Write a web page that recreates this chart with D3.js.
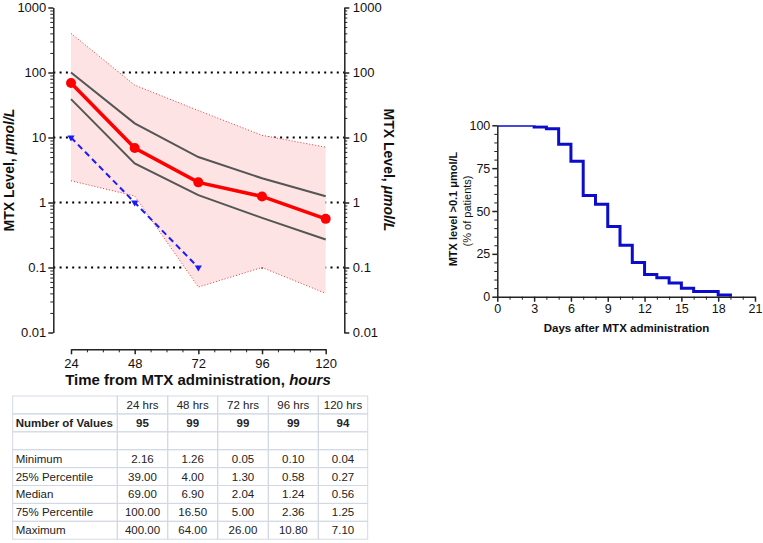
<!DOCTYPE html>
<html><head><meta charset="utf-8">
<script src="https://cdn.jsdelivr.net/npm/d3@7"></script>
<style>
body{margin:0;background:#fff;}
svg{display:block;font-family:"Liberation Sans",Arial,sans-serif;}
</style></head>
<body>
<svg id="c" width="763" height="543"></svg>
<script>
// ---- Data ----
const hours = [24, 48, 72, 96, 120];
const hourLabels = ["24 hrs", "48 hrs", "72 hrs", "96 hrs", "120 hrs"];
const nValues = [95, 99, 99, 99, 94];
const minimum = [2.16, 1.26, 0.05, 0.10, 0.04];
const p25 = [39.00, 4.00, 1.30, 0.58, 0.27];
const median = [69.00, 6.90, 2.04, 1.24, 0.56];
const p75 = [100.00, 16.50, 5.00, 2.36, 1.25];
const maximum = [400.00, 64.00, 26.00, 10.80, 7.10];
const thresholdHours = [24, 48, 72];
const thresholdValues = [10, 1, 0.1];
const refLines = [100, 10, 1, 0.1];
const yTicks = [1000, 100, 10, 1, 0.1, 0.01];
const yTickLabels = ["1000", "100", "10", "1", "0.1", "0.01"];
const xTicks = [24, 48, 72, 96, 120];

const days = [0, 3, 4, 5, 6, 7, 8, 9, 10, 11, 12, 13, 14, 15, 16, 18, 19];
const pctAbove = [100, 99, 98, 89, 79, 59, 54, 41, 30, 20, 13, 11, 8, 5, 3, 1, 0];
const dayTicks = [0, 3, 6, 9, 12, 15, 18, 21];
const pctTicks = [0, 25, 50, 75, 100];

const svg = d3.select("#c");

// ---- Left chart ----
const x = d3.scaleLinear().domain([24, 120]).range([71, 325.7]);
const y = d3.scaleLog().domain([0.01, 1000]).range([332.5, 7.5]);
const yAxisL = 53.3, yAxisR = 344.3, xAxisY = 349.3;

const minorLog = [];
for (let e = -2; e < 3; e++) for (let k = 2; k <= 9; k++) minorLog.push(k * Math.pow(10, e));

const g = svg.append("g");

// reference dotted lines
g.selectAll(".ref").data(refLines).join("line")
  .attr("x1", yAxisL).attr("x2", yAxisR)
  .attr("y1", d => y(d)).attr("y2", d => y(d))
  .attr("stroke", "#000").attr("stroke-width", 2).attr("stroke-dasharray", "2,4.3");

const idx = d3.range(hours.length);
const band = d3.area().x(i => x(hours[i])).y0(i => y(minimum[i])).y1(i => y(maximum[i]));
g.append("path").datum(idx).attr("d", band).attr("fill", "#fde3e3");

const lineOf = arr => d3.line().x(i => x(hours[i])).y(i => y(arr[i]))(idx);
[minimum, maximum].forEach(arr => {
  g.append("path").attr("d", lineOf(arr)).attr("fill", "none")
    .attr("stroke", "#e8383c").attr("stroke-width", 1).attr("stroke-dasharray", "1,2");
});
[p25, p75].forEach(arr => {
  g.append("path").attr("d", lineOf(arr)).attr("fill", "none")
    .attr("stroke", "#555").attr("stroke-width", 2);
});

// threshold blue dashed
const tIdx = d3.range(thresholdHours.length);
g.append("path").attr("d", d3.line().x(i => x(thresholdHours[i])).y(i => y(thresholdValues[i]))(tIdx))
  .attr("fill", "none").attr("stroke", "#1a1aff").attr("stroke-width", 2).attr("stroke-dasharray", "6,4");
const tri = d3.symbol().type(d3.symbolTriangle).size(22);
g.selectAll(".tri").data(tIdx).join("path")
  .attr("d", tri)
  .attr("transform", i => `translate(${x(thresholdHours[i])},${y(thresholdValues[i])}) rotate(180)`)
  .attr("fill", "#1a1aff");

// median
g.append("path").attr("d", lineOf(median)).attr("fill", "none")
  .attr("stroke", "#ff0000").attr("stroke-width", 3.5);
g.selectAll(".med").data(idx).join("circle")
  .attr("cx", i => x(hours[i])).attr("cy", i => y(median[i])).attr("r", 5).attr("fill", "#ff0000");

// axes
function styleAxis(sel, fs) {
  sel.selectAll("path,line").attr("stroke", "#222").attr("stroke-width", 1.5);
  sel.selectAll("text").attr("fill", "#111").style("font-size", fs + "px").style("font-family", "'Liberation Sans',Arial,sans-serif");
}
const fmtY = d => yTickLabels[yTicks.indexOf(d)];
const aL = g.append("g").attr("transform", `translate(${yAxisL},0)`)
  .call(d3.axisLeft(y).tickValues(yTicks).tickFormat(fmtY).tickSize(5).tickPadding(2).tickSizeOuter(0));
styleAxis(aL, 13);
const aLm = g.append("g").attr("transform", `translate(${yAxisL},0)`)
  .call(d3.axisLeft(y).tickValues(minorLog).tickFormat("").tickSize(3).tickSizeOuter(0));
styleAxis(aLm, 13); aLm.select(".domain").remove();
aLm.selectAll("line").attr("stroke-width", 1);

const aR = g.append("g").attr("transform", `translate(${yAxisR},0)`)
  .call(d3.axisRight(y).tickValues(yTicks).tickFormat(fmtY).tickSize(5).tickPadding(3.5).tickSizeOuter(0));
styleAxis(aR, 13);
const aRm = g.append("g").attr("transform", `translate(${yAxisR},0)`)
  .call(d3.axisRight(y).tickValues(minorLog).tickFormat("").tickSize(3).tickSizeOuter(0));
styleAxis(aRm, 13); aRm.select(".domain").remove();
aRm.selectAll("line").attr("stroke-width", 1);

const aX = g.append("g").attr("transform", `translate(0,${xAxisY})`)
  .call(d3.axisBottom(x).tickValues(xTicks).tickFormat(d3.format("d")).tickSize(5).tickPadding(4).tickSizeOuter(0));
styleAxis(aX, 13);
const xMinor = d3.range(24, 121, 6).filter(v => xTicks.indexOf(v) < 0);
const aXm = g.append("g").attr("transform", `translate(0,${xAxisY})`)
  .call(d3.axisBottom(x).tickValues(xMinor).tickFormat("").tickSize(3).tickSizeOuter(0));
styleAxis(aXm, 13); aXm.select(".domain").remove();
aXm.selectAll("line").attr("stroke-width", 1);

// titles
const xt = g.append("text").attr("x", 198).attr("y", 385).attr("text-anchor", "middle")
  .style("font-size", "15px").style("font-weight", "bold").attr("fill", "#111");
xt.append("tspan").text("Time from MTX administration, ");
xt.append("tspan").style("font-style", "italic").text("hours");

function yTitle(xp, rot) {
  const t = g.append("text").attr("transform", `translate(${xp},170) rotate(${rot})`)
    .attr("text-anchor", "middle").attr("dy", "0.35em")
    .style("font-size", "14px").style("font-weight", "bold").attr("fill", "#111");
  t.append("tspan").text("MTX Level, ");
  t.append("tspan").style("font-style", "italic").text("\u03bcmol/L");
}
yTitle(9, -90);
yTitle(389, 90);

// ---- Right chart ----
const xs = d3.scaleLinear().domain([0, 21]).range([497.3, 755]);
const ys = d3.scaleLinear().domain([0, 100]).range([296.7, 125.3]);
const g2 = svg.append("g");
g2.append("clipPath").attr("id", "clipR").append("rect")
  .attr("x", 490).attr("y", 125.3).attr("width", 270).attr("height", 190);

const dIdx = d3.range(days.length);
g2.append("path").attr("clip-path", "url(#clipR)")
  .attr("d", d3.line().curve(d3.curveStepAfter).x(i => xs(days[i])).y(i => ys(pctAbove[i]))(dIdx))
  .attr("fill", "none").attr("stroke", "#0c0ccc").attr("stroke-width", 3);

const ry = g2.append("g").attr("transform", `translate(497.3,0)`)
  .call(d3.axisLeft(ys).tickValues(pctTicks).tickSize(5).tickPadding(2).tickSizeOuter(0));
styleAxis(ry, 12.5);
const rym = g2.append("g").attr("transform", `translate(497.3,0)`)
  .call(d3.axisLeft(ys).tickValues(d3.range(5, 100, 5).filter(v => v % 25)).tickFormat("").tickSize(3).tickSizeOuter(0));
styleAxis(rym, 12); rym.select(".domain").remove(); rym.selectAll("line").attr("stroke-width", 1);

const rx = g2.append("g").attr("transform", `translate(0,296.7)`)
  .call(d3.axisBottom(xs).tickValues(dayTicks).tickSize(5).tickPadding(2).tickSizeOuter(0));
styleAxis(rx, 12.5);
const rxm = g2.append("g").attr("transform", `translate(0,296.7)`)
  .call(d3.axisBottom(xs).tickValues(d3.range(1, 21).filter(v => v % 3)).tickFormat("").tickSize(3).tickSizeOuter(0));
styleAxis(rxm, 12); rxm.select(".domain").remove(); rxm.selectAll("line").attr("stroke-width", 1);

g2.append("text").attr("x", 626.5).attr("y", 332).attr("text-anchor", "middle")
  .style("font-size", "11.5px").style("font-weight", "bold").attr("fill", "#111")
  .text("Days after MTX administration");
g2.append("text").attr("transform", "translate(457,209) rotate(-90)").attr("text-anchor", "middle")
  .style("font-size", "11px").style("font-weight", "bold").attr("fill", "#111")
  .text("MTX level >0.1 \u03bcmol/L");
g2.append("text").attr("transform", "translate(471,211) rotate(-90)").attr("text-anchor", "middle")
  .style("font-size", "11px").attr("fill", "#111")
  .text("(% of patients)");

// ---- Table ----
const colX = [12.7, 117.3, 167.7, 217.7, 268.3, 318.3, 367.7];
const rowH = 17.9, top0 = 396;
const rows = [
  { label: "", vals: hourLabels, bold: false },
  { label: "Number of Values", vals: nValues.map(String), bold: true },
  { label: "", vals: ["", "", "", "", ""], bold: false },
  { label: "Minimum", vals: minimum.map(v => v.toFixed(2)), bold: false },
  { label: "25% Percentile", vals: p25.map(v => v.toFixed(2)), bold: false },
  { label: "Median", vals: median.map(v => v.toFixed(2)), bold: false },
  { label: "75% Percentile", vals: p75.map(v => v.toFixed(2)), bold: false },
  { label: "Maximum", vals: maximum.map(v => v.toFixed(2)), bold: false }
];
const tg = svg.append("g");
rows.forEach((r, ri) => {
  const yy = top0 + ri * rowH;
  for (let c = 0; c < 6; c++) {
    tg.append("rect").attr("x", colX[c]).attr("y", yy).attr("width", colX[c + 1] - colX[c]).attr("height", rowH)
      .attr("fill", "none").attr("stroke", "#d3d9e4").attr("stroke-width", 1);
  }
  tg.append("text").attr("x", colX[0] + 3).attr("y", yy + rowH / 2).attr("dy", "0.35em")
    .style("font-size", "11.5px").style("font-weight", r.bold ? "bold" : "normal").attr("fill", "#222").text(r.label);
  r.vals.forEach((v, c) => {
    tg.append("text").attr("x", (colX[c + 1] + colX[c + 2]) / 2).attr("y", yy + rowH / 2).attr("dy", "0.35em")
      .attr("text-anchor", "middle")
      .style("font-size", "11.5px").style("font-weight", r.bold ? "bold" : "normal").attr("fill", "#222").text(v);
  });
});
</script>
</body></html>
